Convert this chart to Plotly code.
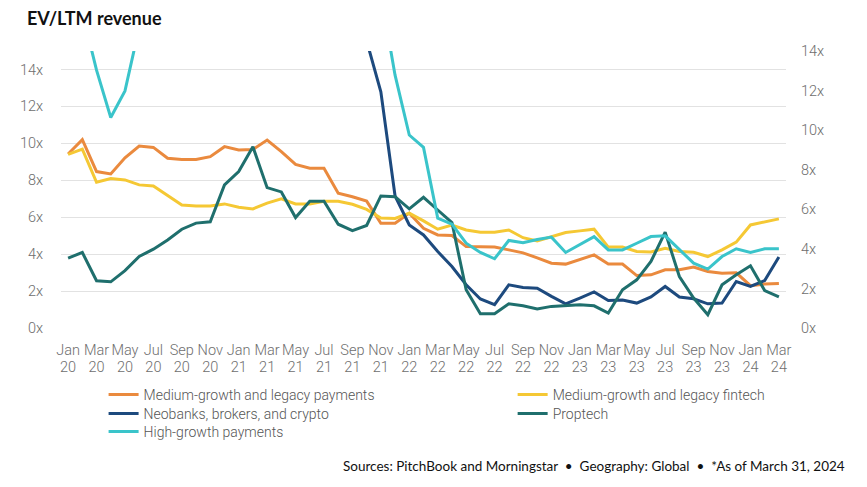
import plotly.graph_objects as go

# ---------------- data ----------------
month_names = ["Jan", "Feb", "Mar", "Apr", "May", "Jun", "Jul", "Aug", "Sep", "Oct", "Nov", "Dec"]
months = [f"{m} {y}" for y in range(20, 25) for m in month_names][:51]  # Jan 20 .. Mar 24

med_payments = [9.42, 10.2, 8.47, 8.34, 9.22, 9.85, 9.78, 9.19, 9.13, 9.13,
                9.28, 9.82, 9.64, 9.67, 10.18, 9.55, 8.86, 8.65, 8.65, 7.3,
                7.11, 6.87, 5.67, 5.67, 6.22, 5.4, 5.04, 5.01, 4.41, 4.4,
                4.38, 4.23, 4.07, 3.8, 3.51, 3.46, 3.73, 3.96, 3.46, 3.46,
                2.84, 2.88, 3.15, 3.15, 3.3, 3.06, 2.97, 2.99, 2.29, 2.38, 2.41]

med_fintech = [9.4, 9.69, 7.89, 8.09, 8.02, 7.75, 7.69, 7.17, 6.66, 6.61,
               6.61, 6.72, 6.54, 6.45, 6.76, 6.99, 6.72, 6.72, 6.86, 6.86,
               6.7, 6.42, 5.95, 5.93, 6.22, 5.8, 5.35, 5.58, 5.31, 5.19,
               5.19, 5.31, 4.89, 4.71, 4.92, 5.17, 5.26, 5.35, 4.38, 4.38,
               4.14, 4.12, 4.32, 4.14, 4.1, 3.87, 4.23, 4.65, 5.58, 5.75, 5.91]

neobanks = [30, 32, 28, 27, 29, 33, 36, 40, 42, 45,
            48, 50, 52, 55, 50, 45, 40, 36, 32, 26,
            20, 15.55, 12.79, 7.15, 5.58, 5.04, 4.14, 3.33, 2.34, 1.57,
            1.26, 2.34, 2.19, 2.15, 1.71, 1.31, 1.62, 1.95, 1.49, 1.51,
            1.35, 1.68, 2.25, 1.68, 1.58, 1.31, 1.35, 2.52, 2.25, 2.57, 3.84]

proptech = [3.78, 4.09, 2.56, 2.5, 3.11, 3.87, 4.27, 4.77, 5.35, 5.68,
            5.75, 7.75, 8.47, 9.82, 7.6, 7.37, 5.98, 6.86, 6.86, 5.62,
            5.27, 5.55, 7.15, 7.11, 6.45, 7.08, 6.39, 5.71, 2.07, 0.77,
            0.77, 1.31, 1.2, 1.03, 1.17, 1.22, 1.26, 1.2, 0.81, 2.07,
            2.61, 3.6, 5.19, 2.79, 1.62, 0.72, 2.34, 2.88, 3.37, 2.03, 1.68]

high_payments = [20, 17.1, 13.96, 11.4, 12.84, 16.44, 20, 24, 27, 30,
                 32, 34, 36, 38, 35, 33, 30, 28, 26, 24,
                 22, 20, 18.1, 13.69, 10.45, 9.78, 5.95, 5.62, 4.59, 4.09,
                 3.75, 4.74, 4.62, 4.79, 4.92, 4.09, 4.5, 4.95, 4.23, 4.23,
                 4.59, 4.95, 4.99, 4.23, 3.51, 3.19, 3.87, 4.29, 4.09, 4.29, 4.29]

tick_months = months[::2]
tick_month_text = [m.split(" ")[0] for m in tick_months]
tick_year_text = [m.split(" ")[1] for m in tick_months]
y_ticks = [0, 2, 4, 6, 8, 10, 12, 14]

# (name, values, colour, legend id, legend position in page px: x of line start, y centre)
series = [
    ("Medium-growth and legacy payments", med_payments, "#EA8A3E", "legend", 107, 395),
    ("Medium-growth and legacy fintech", med_fintech, "#F5C834", "legend2", 520, 395),
    ("Neobanks, brokers, and crypto", neobanks, "#1D4A7E", "legend3", 107, 414),
    ("Proptech", proptech, "#1F6F6D", "legend4", 520, 414),
    ("High-growth payments", high_payments, "#3AC4CA", "legend5", 107, 432),
]

for s in series:
    assert len(s[1]) == len(months)

# ---------------- layout geometry (page px; page body has an 8px margin) ----------------
OFF = 8
PAGE_W, PAGE_H = 867, 487
W, H = PAGE_W - OFF, PAGE_H - OFF
PLOT_L, PLOT_R, PLOT_T, PLOT_B = 54, 786, 51, 328
ML, MR, MT, MB = PLOT_L - OFF, PAGE_W - PLOT_R, PLOT_T - OFF, PAGE_H - PLOT_B
PW, PH = PLOT_R - PLOT_L, PLOT_B - PLOT_T


def px_x(x):
    return (x - PLOT_L) / PW


def px_y(y):
    return (PLOT_B - y) / PH


fig = go.Figure()
for name, vals, color, leg, _, _ in series:
    fig.add_trace(go.Scatter(
        x=months, y=vals, name=name, mode="lines",
        line=dict(color=color, width=3), legend=leg,
        hoverinfo="skip",
    ))

# invisible trace so the secondary axes (right y scale, year row) get their categories
fig.add_trace(go.Scatter(x=months, y=med_fintech, xaxis="x2", yaxis="y2", mode="lines",
                         line=dict(width=0, color="rgba(0,0,0,0)"),
                         showlegend=False, hoverinfo="skip", opacity=0))

FONT = "Roboto"
tick_font = dict(family=FONT, size=14.5, color="#6e6e6e", weight=300)
leg_font = dict(family=FONT, size=14, color="#555555", weight=300)

layout_legends = {}
for name, vals, color, leg, lx, ly in series:
    layout_legends[leg] = dict(
        x=px_x(lx - 10), y=px_y(ly), xanchor="left", yanchor="middle",
        orientation="v", font=leg_font, itemwidth=30,
        bgcolor="rgba(0,0,0,0)", borderwidth=0,
    )

fig.update_layout(
    width=W, height=H,
    margin=dict(l=ML, r=MR, t=MT, b=MB, pad=0),
    paper_bgcolor="white", plot_bgcolor="white",
    xaxis=dict(
        type="category", categoryorder="array", categoryarray=months,
        range=[-0.5, len(months) - 0.5],
        tickmode="array", tickvals=tick_months, ticktext=tick_month_text,
        tickfont=tick_font, tickangle=0, showgrid=False, zeroline=False, showline=False,
        ticks="outside", ticklen=9, tickcolor="rgba(0,0,0,0)",
    ),
    xaxis2=dict(
        type="category", categoryorder="array", categoryarray=months,
        range=[-0.5, len(months) - 0.5], overlaying="x", side="bottom", anchor="y2",
        tickmode="array", tickvals=tick_months, ticktext=tick_year_text,
        tickfont=tick_font, tickangle=0, showgrid=False, zeroline=False, showline=False,
        ticks="outside", ticklen=26, tickcolor="rgba(0,0,0,0)",
    ),
    yaxis=dict(
        range=[0, 15], tickmode="array", tickvals=y_ticks,
        ticktext=[f"{v}x" for v in y_ticks], tickfont=tick_font,
        showgrid=True, gridcolor="#E2E2E2", gridwidth=1.3,
        zeroline=False, showline=False,
        ticks="outside", ticklen=14, tickcolor="rgba(0,0,0,0)",
    ),
    yaxis2=dict(
        range=[0, 14], tickmode="array", tickvals=y_ticks,
        ticktext=[f"{v}x" for v in y_ticks], tickfont=tick_font,
        overlaying="y", side="right", anchor="x",
        showgrid=False, zeroline=False, showline=False,
        ticks="outside", ticklen=11, tickcolor="rgba(0,0,0,0)",
    ),
    showlegend=True,
    annotations=[
        dict(text="<b>EV/LTM revenue</b>", xref="paper", yref="paper",
             x=px_x(18), y=px_y(18), xanchor="left", yanchor="middle",
             showarrow=False, font=dict(family="Lato", size=18, color="#111111")),
        dict(text="Sources: PitchBook and Morningstar  •  Geography: Global  •  *As of March 31, 2024",
             xref="paper", yref="paper", x=px_x(848), y=px_y(466),
             xanchor="right", yanchor="middle", showarrow=False,
             font=dict(family="Lato", size=13.5, color="#111111")),
    ],
    **layout_legends,
)

fig.write_html("out.html")
